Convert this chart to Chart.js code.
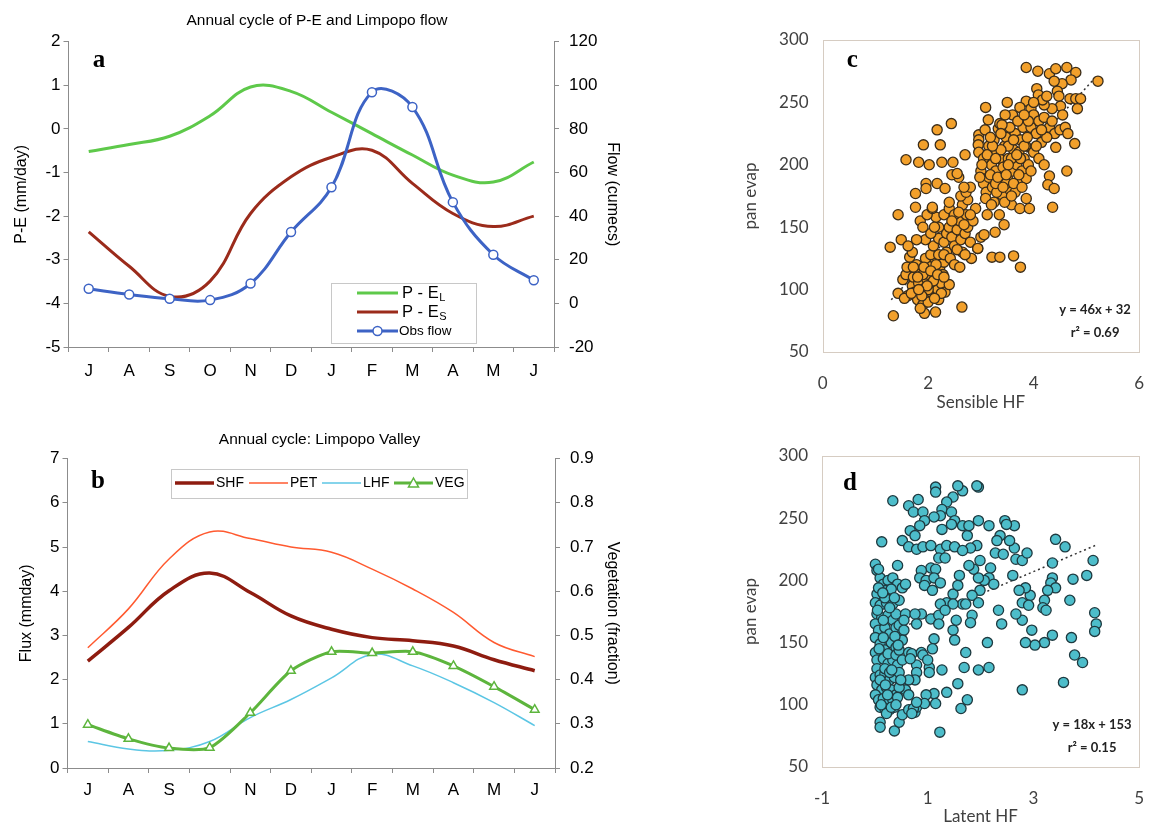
<!DOCTYPE html>
<html>
<head>
<meta charset="utf-8">
<script src="https://cdn.jsdelivr.net/npm/chart.js@4.4.1/dist/chart.umd.min.js"></script>
<style>
  body { margin: 0; background: #fff; width: 1165px; height: 827px; position: relative; overflow: hidden; }
  .panel { position: absolute; }
</style>
</head>
<body>
<div class="panel" style="left:0;top:0"><canvas id="chartA" width="640" height="400"></canvas></div>
<div class="panel" style="left:0;top:400px"><canvas id="chartB" width="640" height="427"></canvas></div>
<div class="panel" style="left:735px;top:0"><canvas id="chartC" width="430" height="420"></canvas></div>
<div class="panel" style="left:735px;top:420px"><canvas id="chartD" width="430" height="407"></canvas></div>
<script>
// ---- data ----
const months = ['J', 'A', 'S', 'O', 'N', 'D', 'J', 'F', 'M', 'A', 'M', 'J'];

// panel a: P-E (mm/day) and observed flow (cumecs)
const peLand = [-0.52, -0.36, -0.17, 0.30, 0.96, 0.86, 0.38, -0.11, -0.60, -1.06, -1.22, -0.76];
const peSea = [-2.36, -3.15, -3.84, -3.49, -1.94, -1.10, -0.65, -0.49, -1.25, -1.94, -2.24, -2.00];
const obsFlow = [6.7, 4.1, 2.1, 1.5, 9.1, 32.7, 53.2, 96.8, 90.0, 46.4, 22.3, 10.6];

// panel b: fluxes (mm/day) and vegetation fraction
const shf = [2.42, 3.18, 4.01, 4.41, 3.97, 3.44, 3.14, 2.95, 2.88, 2.76, 2.45, 2.20];
const pet = [2.72, 3.60, 4.73, 5.34, 5.19, 5.00, 4.88, 4.50, 4.05, 3.52, 2.84, 2.52];
const lhf = [0.60, 0.43, 0.40, 0.60, 1.14, 1.55, 2.04, 2.57, 2.31, 1.93, 1.48, 0.96];
const veg = [0.298, 0.266, 0.245, 0.246, 0.325, 0.420, 0.463, 0.460, 0.463, 0.431, 0.384, 0.332];

// panel c: sensible HF vs pan evap
const sensibleHF = [
  1.34,1.43,1.61,1.55,1.52,1.58,1.60,1.70,1.72,1.75,1.80,1.82,1.85,1.88,1.90,1.93,1.95,1.98,2.00,2.02,2.05,2.08,2.10,2.12,2.14,
  2.15,2.18,2.20,2.22,2.25,2.28,2.30,2.32,2.35,1.78,1.95,2.05,1.68,1.85,2.40,1.65,1.90,2.00,2.10,2.20,1.80,1.92,2.15,2.25,2.00,
  2.10,2.20,2.30,2.35,2.40,2.45,2.50,2.55,2.60,2.62,2.65,2.70,2.72,2.75,2.80,2.82,2.85,2.90,2.30,2.42,2.50,2.55,2.60,2.70,2.20,
  2.15,2.30,2.40,2.50,2.65,2.75,2.80,1.95,2.05,1.85,1.90,1.98,2.08,2.12,2.45,2.58,2.68,2.94,3.00,2.62,2.72,2.80,2.58,2.45,
  1.43,1.49,1.28,1.58,1.82,2.02,1.91,2.17,2.23,2.26,2.47,2.70,2.44,1.76,1.76,2.08,1.96,1.96,2.17,2.32,2.40,2.55,2.68,1.78,1.70,1.62,
  2.96,2.96,2.95,2.96,3.09,3.14,3.00,3.05,3.10,3.09,3.12,3.15,3.20,3.22,3.25,3.28,3.30,3.33,3.36,3.35,3.38,3.40,3.42,3.45,3.48,
  3.50,3.52,3.55,3.58,3.60,3.62,3.65,3.68,3.70,3.72,3.74,3.75,3.78,3.80,3.82,3.86,3.86,3.92,3.85,3.90,3.30,3.20,3.45,3.55,3.60,
  3.50,3.40,3.25,3.15,3.05,3.35,3.44,3.27,3.06,3.18,3.48,3.65,3.70,3.62,3.52,3.38,3.28,3.58,3.75,
  3.86,4.08,4.30,4.42,4.63,4.80,4.71,4.54,4.39,5.22,4.06,4.09,4.45,4.48,4.69,4.80,4.89,4.83,4.51,4.35,4.20,4.17,3.86,3.95,3.74,
  4.00,4.10,4.20,4.30,4.40,4.50,4.60,4.65,4.78,4.42,4.30,4.27,4.39,4.36,4.63,3.95,4.05,4.15,4.25,4.00,4.10,4.20,3.95,4.05,4.15,
  4.35,4.55,4.25,3.90,4.00,3.82,
  3.21,3.36,3.62,3.75,2.94,2.64,
  3.02,3.12,3.22,3.32,3.42,3.52,3.62,3.72,3.82,3.08,3.18,3.28,3.38,3.48,3.58,3.68,3.78,3.88,2.98,3.46,
  1.72,1.88,2.05,2.18,2.30,1.98,2.12,1.82
];
const panEvapC = [
  79,97,95,93,108,112,118,103,110,98,92,105,115,100,88,81,95,108,120,112,103,97,115,125,82,
  108,100,92,118,105,112,122,98,130,120,125,128,97,85,104,126,112,100,107,128,110,118,120,97,90,
  135,141,138,145,150,142,135,148,155,140,130,145,160,150,138,125,155,165,128,125,120,132,118,128,150,
  158,160,165,160,168,172,160,140,145,155,150,160,165,150,155,162,152,133,142,175,178,182,190,192,
  160,140,134,204,202,200,216,228,216,202,202,208,233,177,166,166,185,181,185,181,170,193,182,140,130,135,
  224,220,216,210,246,236,195,185,178,173,160,190,200,182,170,195,210,229,233,205,188,176,198,215,222,
  190,205,180,168,195,212,225,200,185,210,165,220,195,230,205,189,173,165,215,200,178,168,170,230,240,
  250,232,220,215,205,160,152,146,144,192,185,178,235,185,215,212,185,205,205,
  278,275,273,277,278,274,268,265,267,267,261,256,259,255,253,253,253,245,247,245,248,252,251,245,246,
  240,235,238,230,225,228,230,225,217,214,191,184,181,166,195,230,225,218,222,210,205,200,195,215,228,
  235,240,255,235,250,240,
  126,126,127,118,133,86,
  200,208,215,190,182,200,220,192,215,228,222,205,225,192,175,208,182,222,190,240,
  118,95,115,112,110,103,93,100
];

// panel d: latent HF vs pan evap
const latentHF = [
  0.01,0.04,0.10,0.16,0.25,0.34,0.43,0.52,0.22,0.31,0.04,0.01,0.10,0.22,0.34,0.46,0.04,0.13,0.25,0.34,
  0.40,0.01,0.07,0.19,0.28,0.40,0.01,0.10,0.19,0.31,0.40,0.01,0.04,0.16,0.25,0.34,0.43,0.04,0.01,0.10,
  0.19,0.28,0.37,0.04,0.13,0.22,0.31,0.01,0.07,0.16,0.25,0.34,0.10,0.19,0.28,0.37,0.22,0.40,0.31,0.16,
  0.25,0.16,0.07,0.19,0.37,0.46,0.49,0.10,0.19,0.28,0.10,0.10,0.37,0.46,0.52,0.07,0.13,0.43,0.34,0.40,
  0.64,0.76,0.79,1.12,1.15,0.97,0.94,0.58,0.55,0.55,0.52,0.46,0.52,0.64,0.70,0.88,0.91,0.79,0.79,0.76,
  0.64,0.58,0.64,0.46,0.43,0.40,0.46,0.49,0.73,0.79,0.70,1.06,1.12,1.09,1.03,1.00,0.88,0.76,0.79,0.67,
  0.58,1.03,
  1.23,1.36,1.63,1.75,1.57,1.27,1.69,1.72,1.96,2.16,2.13,2.79,3.57,3.78,3.93,3.72,3.36,3.21,3.03,2.85,
  2.97,2.79,2.67,2.40,2.34,4.16,4.19,4.16,4.13,4.01,3.75,3.69,
  3.60,3.42,3.36,3.36,3.33,3.42,3.27,3.21,3.18,3.24,2.94,2.85,2.79,2.91,2.73,2.61,2.67,2.79,2.88,2.64,
  2.55,2.64,2.46,2.49,2.37,2.31,2.28,2.43,2.19,2.16,2.25,2.07,1.96,1.99,1.84,1.87,1.78,1.99,1.93,1.81,
  1.75,1.96,2.16,1.96,1.93,
  1.66,1.57,1.48,1.36,1.27,1.24,1.15,1.15,1.45,1.51,1.66,1.78,1.45,1.12,1.27,0.82,0.64,0.73,0.91,0.94,
  0.85,0.67,0.76,0.52,0.64,0.79,0.91,1.06,1.24,1.36,1.51,1.66,1.21,1.33,1.06,1.15,0.88,0.85,0.97,1.12,
  0.94,1.09,1.24,1.36,1.48,1.57,1.60,1.66,1.72,1.48,1.54,1.48,1.51,1.24,1.21,1.21,1.84,1.81,1.96,1.33,
  0.05,0.15,0.28,0.38,0.08,0.20,0.32,0.12,0.24,0.44
];
const panEvapD = [
  213,208,202,197,200,202,197,194,192,193,189,182,180,182,181,184,173,170,172,168,
  173,165,160,162,157,162,154,149,144,150,146,142,136,137,133,136,132,129,122,124,
  125,120,122,116,112,114,112,108,104,105,101,104,98,97,96,98,93,108,98,154,
  141,168,194,186,186,164,156,120,129,126,86,82,79,86,92,209,231,212,264,140,
  96,94,98,109,101,108,101,173,168,160,152,144,136,142,141,142,140,132,126,120,
  120,112,108,114,106,100,126,120,97,102,93,169,153,145,130,136,173,173,165,137,
  197,126,
  78,110,97,104,117,128,130,142,128,130,150,112,118,140,134,154,156,150,148,150,
  160,168,173,165,176,174,165,159,216,204,201,184,
  227,233,214,202,198,194,192,184,178,176,188,194,182,180,192,204,217,216,222,226,
  232,244,248,245,236,232,222,221,210,202,197,200,202,192,188,209,212,216,228,226,
  236,248,244,275,276,
  272,276,267,263,257,252,275,271,255,248,244,244,245,251,241,265,260,255,255,248,
  244,240,236,232,227,225,227,228,225,228,227,224,218,218,210,209,208,202,200,202,
  196,192,198,182,189,196,204,181,181,181,168,160,152,181,172,165,172,166,182,176,
  176,190,178,155,145,116,128,100,108,148
];

// regression lines printed on the panels: [slope, intercept], x extent
const fitC = [46, 32];
const fitD = [18, 153];
const fitRangeC = [1.3, 5.2];
const fitRangeD = [0.3, 4.2];
const xTicksD = [-1, 1, 3, 5];

// ---- styling ----
const SANS = '"Liberation Sans", Arial, sans-serif';
const CAL = 'Lato, "Open Sans", sans-serif';
const SERIF = '"Liberation Serif", "Times New Roman", serif';
Chart.defaults.font.family = SANS;
Chart.defaults.color = '#000';
Chart.defaults.animation = false;

const GREEN = '#5ec94a', RED = '#9b2b1b', BLUE = '#3d63c5';
const SHF_C = '#8e1c10', PET_C = '#ff5a30', LHF_C = '#5cc6e4', VEG_C = '#5db53d';
const AXIS = '#8c8c8c';

function pairs(xs, ys) {
    return xs.map((x, i) => ({ x: x, y: ys[i] }));
}
function fitLine(f, r) {
    return r.map(x => ({ x: x, y: f[0] * x + f[1] }));
}

// letters, equations, border box and hand-made legends
const notes = {
    id: 'notes',
    beforeDatasetsDraw(chart, args, o) {
        if (!o.box) return;
        const a = chart.chartArea, ctx = chart.ctx;
        ctx.save();
        ctx.strokeStyle = o.box;
        ctx.lineWidth = 1;
        ctx.strokeRect(Math.round(a.left) + 0.5, Math.round(a.top) + 0.5,
            Math.round(a.right - a.left), Math.round(a.bottom - a.top));
        ctx.restore();
    },
    afterDraw(chart, args, o) {
        const a = chart.chartArea, ctx = chart.ctx;
        ctx.save();
        ctx.fillStyle = '#000';
        ctx.textAlign = 'center';
        ctx.textBaseline = 'alphabetic';
        ctx.font = 'bold 25px ' + SERIF;
        ctx.fillText(o.letter, a.left + o.letterAt[0], a.top + o.letterAt[1]);
        if (o.eq) {
            ctx.font = 'bold 13px ' + CAL;
            ctx.fillStyle = '#222';
            ctx.textBaseline = 'middle';
            ctx.fillText(o.eq[0], a.right - o.eqAt[0], a.bottom - o.eqAt[1]);
            ctx.fillText(o.eq[1], a.right - o.eqAt[0], a.bottom - o.eqAt[2]);
        }
        if (o.legend) o.legend(ctx);
        ctx.restore();
    }
};

function legendA(ctx) {
    ctx.fillStyle = '#fff';
    ctx.fillRect(331, 283, 145, 60);
    ctx.strokeStyle = '#c8c8c8';
    ctx.lineWidth = 1;
    ctx.strokeRect(331.5, 283.5, 145, 60);
    ctx.textAlign = 'left';
    ctx.textBaseline = 'middle';
    [['P - E', 'L', GREEN, 293], ['P - E', 'S', RED, 312]].forEach(([t, s, c, y]) => {
        ctx.strokeStyle = c;
        ctx.lineWidth = 3;
        ctx.beginPath(); ctx.moveTo(357, y); ctx.lineTo(398, y); ctx.stroke();
        ctx.fillStyle = '#000';
        ctx.font = '16.5px ' + SANS;
        ctx.fillText(t, 402, y);
        const w = ctx.measureText(t).width;
        ctx.font = '11px ' + SANS;
        ctx.fillText(s, 402 + w + 0.5, y + 5);
    });
    ctx.strokeStyle = BLUE;
    ctx.lineWidth = 3;
    ctx.beginPath(); ctx.moveTo(357, 331); ctx.lineTo(398, 331); ctx.stroke();
    ctx.fillStyle = '#fff';
    ctx.lineWidth = 1.5;
    ctx.beginPath(); ctx.arc(377.5, 331, 4.5, 0, Math.PI * 2); ctx.fill(); ctx.stroke();
    ctx.fillStyle = '#000';
    ctx.font = '13.5px ' + SANS;
    ctx.fillText('Obs flow', 399, 331);
}

function legendB(ctx) {
    const y = 83;
    ctx.fillStyle = '#fff';
    ctx.fillRect(171, 69, 296, 29);
    ctx.strokeStyle = '#c8c8c8';
    ctx.lineWidth = 1;
    ctx.strokeRect(171.5, 69.5, 296, 29);
    ctx.textAlign = 'left';
    ctx.textBaseline = 'middle';
    ctx.font = '14px ' + SANS;
    [['SHF', SHF_C, 3.5, 175], ['PET', PET_C, 1.5, 249], ['LHF', LHF_C, 1.5, 322], ['VEG', VEG_C, 3, 394]]
        .forEach(([t, c, w, x]) => {
            ctx.strokeStyle = c;
            ctx.lineWidth = w;
            ctx.beginPath(); ctx.moveTo(x, y); ctx.lineTo(x + 39, y); ctx.stroke();
            ctx.fillStyle = '#000';
            ctx.fillText(t, x + 41, y);
        });
    ctx.fillStyle = '#fff';
    ctx.strokeStyle = VEG_C;
    ctx.lineWidth = 1.5;
    ctx.beginPath(); ctx.moveTo(413.5, y - 5); ctx.lineTo(418.5, y + 4); ctx.lineTo(408.5, y + 4); ctx.closePath();
    ctx.fill(); ctx.stroke();
}

function monthAxis(pad) {
    return {
        type: 'category',
        labels: months,
        offset: true,
        grid: { drawOnChartArea: false, offset: true, tickLength: 5, color: AXIS },
        border: { color: AXIS },
        ticks: { font: { size: 17 }, padding: pad, maxRotation: 0, autoSkip: false },
        afterFit: s => { s.height = s.chart.height - s.chart.options.scaleBottom; }
    };
}

function valueAxis(pos, min, max, step, title, width, pad) {
    return {
        position: pos,
        min: min,
        max: max,
        grid: { drawOnChartArea: false, tickLength: 5, color: AXIS },
        border: { color: AXIS },
        ticks: { stepSize: step, font: { size: 17 }, padding: pad },
        title: { display: true, text: title, font: { size: 16 }, padding: { top: 4, bottom: 4 } },
        afterFit: s => { s.width = width; }
    };
}

// ---- panel a ----
new Chart('chartA', {
    type: 'line',
    data: {
        labels: months,
        datasets: [
            { label: 'Obs flow', data: obsFlow, yAxisID: 'y1', borderColor: BLUE, borderWidth: 3,
              pointRadius: 4.5, pointBackgroundColor: '#fff', pointBorderColor: BLUE, pointBorderWidth: 1.5,
              tension: 0.4, order: 0 },
            { label: 'P - ES', data: peSea, yAxisID: 'y', borderColor: RED, borderWidth: 3,
              pointRadius: 0, tension: 0.4, order: 1 },
            { label: 'P - EL', data: peLand, yAxisID: 'y', borderColor: GREEN, borderWidth: 3,
              pointRadius: 0, tension: 0.4, order: 2 }
        ]
    },
    options: {
        responsive: false,
        scaleBottom: 347,
        layout: { padding: { left: 8, right: 14, top: 0, bottom: 0 } },
        plugins: {
            legend: { display: false },
            tooltip: { enabled: false },
            title: { display: true, text: 'Annual cycle of P-E and Limpopo flow',
                     font: { size: 15.5, weight: 'normal' }, padding: { top: 11.5, bottom: 11.5 } },
            notes: { letter: 'a', letterAt: [30.5, 25], legend: legendA }
        },
        scales: {
            x: monthAxis(9),
            y: valueAxis('left', -5, 2, 1, 'P-E (mm/day)', 60.5, 3),
            y1: valueAxis('right', -20, 120, 20, 'Flow (cumecs)', 72, 10)
        }
    },
    plugins: [notes]
});

// ---- panel b ----
new Chart('chartB', {
    type: 'line',
    data: {
        labels: months,
        datasets: [
            { label: 'VEG', data: veg, yAxisID: 'y1', borderColor: VEG_C, borderWidth: 3,
              pointStyle: 'triangle', pointRadius: 5, pointBackgroundColor: '#fff',
              pointBorderColor: VEG_C, pointBorderWidth: 1.5, tension: 0.25, order: 0 },
            { label: 'SHF', data: shf, yAxisID: 'y', borderColor: SHF_C, borderWidth: 3.5,
              pointRadius: 0, tension: 0.4, order: 1 },
            { label: 'PET', data: pet, yAxisID: 'y', borderColor: PET_C, borderWidth: 1.5,
              pointRadius: 0, tension: 0.4, order: 2 },
            { label: 'LHF', data: lhf, yAxisID: 'y', borderColor: LHF_C, borderWidth: 1.5,
              pointRadius: 0, tension: 0.4, order: 3 }
        ]
    },
    options: {
        responsive: false,
        scaleBottom: 368,
        layout: { padding: { left: 13, right: 14, top: 0, bottom: 0 } },
        plugins: {
            legend: { display: false },
            tooltip: { enabled: false },
            title: { display: true, text: 'Annual cycle: Limpopo Valley',
                     font: { size: 15.5, weight: 'normal' }, padding: { top: 30.5, bottom: 9.5 } },
            notes: { letter: 'b', letterAt: [30.5, 29.5], legend: legendB }
        },
        scales: {
            x: monthAxis(7),
            y: valueAxis('left', 0, 7, 1, 'Flux (mmday)', 54.5, 3),
            y1: valueAxis('right', 0.2, 0.9, 0.1, 'Vegetation (fraction)', 71, 10)
        }
    },
    plugins: [notes]
});

// ---- panels c and d ----
function scatterPanel(id, xs, ys, fit, range, fill, edge, xOpts, o) {
    return new Chart(id, {
        type: 'scatter',
        data: {
            datasets: [
                { data: pairs(xs, ys), backgroundColor: fill, borderColor: edge, borderWidth: 1.3,
                  pointRadius: 5.1, order: 0 },
                { data: fitLine(fit, range), showLine: true, borderColor: '#333', borderWidth: 1.5,
                  borderDash: [2, 3], pointRadius: 0, order: 1 }
            ]
        },
        options: {
            responsive: false,
            layout: { padding: o.padding },
            plugins: {
                legend: { display: false },
                tooltip: { enabled: false },
                notes: { letter: o.letter, letterAt: o.letterAt, box: '#d6ccc2',
                         eq: o.eq, eqAt: o.eqAt }
            },
            scales: {
                x: Object.assign({
                    type: 'linear',
                    grid: { display: false, drawTicks: false },
                    border: { display: false },
                    ticks: { font: { size: 17, family: CAL }, color: '#404040', padding: 21 },
                    title: { display: true, text: o.xTitle, color: '#404040',
                             font: { size: 17, family: CAL }, padding: { top: 0, bottom: o.xTitlePad } },
                    afterFit: s => { s.height = o.xHeight; }
                }, xOpts),
                y: {
                    min: 50,
                    max: 300,
                    grid: { display: false, drawTicks: false },
                    border: { display: false },
                    ticks: { stepSize: 50, font: { size: 17, family: CAL }, color: '#404040', padding: 14 },
                    title: { display: true, text: 'pan evap', color: '#404040',
                             font: { size: 17, family: CAL }, padding: { top: 4, bottom: 4 } },
                    afterFit: s => { s.width = o.yWidth; }
                }
            }
        },
        plugins: [notes]
    });
}

scatterPanel('chartC', sensibleHF, panEvapC, fitC, fitRangeC, '#f2a02b', '#3b2d1a',
    { min: 0, max: 6, ticks: { stepSize: 2, font: { size: 17, family: CAL }, color: '#404040', padding: 21 } },
    { padding: { left: 1, right: 7, top: 40, bottom: 0 }, yWidth: 86.7, xHeight: 68, xTitlePad: 7,
      xTitle: 'Sensible HF', letter: 'c', letterAt: [29.5, 26.7],
      eq: ['y = 46x + 32', 'r\u00b2 = 0.69'], eqAt: [44, 42, 19] });

scatterPanel('chartD', latentHF, panEvapD, fitD, fitRangeD, '#4dbdca', '#1e3a40',
    { min: -1, max: 5,
      afterBuildTicks: s => { s.ticks = xTicksD.map(v => ({ value: v })); } },
    { padding: { left: 1, right: 8, top: 36, bottom: 0 }, yWidth: 86, xHeight: 60, xTitlePad: 0,
      xTitle: 'Latent HF', letter: 'd', letterAt: [28, 34],
      eq: ['y = 18x + 153', 'r\u00b2 = 0.15'], eqAt: [47, 42, 19] });
</script>
</body>
</html>
